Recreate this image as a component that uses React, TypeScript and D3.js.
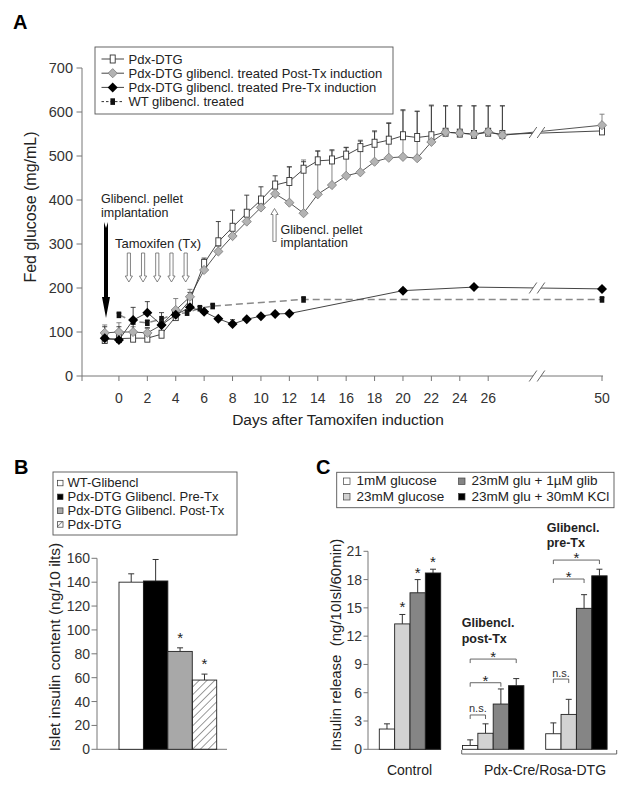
import * as d3 from "d3";

const FONT = "'Liberation Sans', Arial, Helvetica, sans-serif";

// ---------- Panel A: fed glucose time course ----------
const daysA = [-1, 0, 1, 2, 3, 4, 5, 6, 7, 8, 9, 10, 11, 12, 13, 14, 15, 16, 17, 18, 19, 20, 21, 22, 23, 24, 25, 26, 27, 50];
const pdxDtg = [83, 85, 86, 86, 95, 135, 172, 256, 305, 338, 370, 400, 434, 442, 470, 489, 491, 502, 519, 529, 536, 546, 542, 546, 554, 552, 549, 554, 549, 557];
const pdxDtgTop = [112, 112, 118, 110, 118, 150, 190, 268, 351, 377, 411, 430, 455, 475, 487, 511, 514, 519, 534, 557, 574, 605, 602, 614, 614, 614, 614, 614, 614, 563];
const postTx = [98, 100, 100, 98, 116, 150, 180, 241, 283, 318, 351, 383, 414, 394, 370, 413, 434, 455, 463, 487, 496, 498, 495, 532, 554, 552, 550, 555, 547, 570];
const postTxTop = [116, 121, 112, 108, 128, 176, 197, 250, 295, 330, 365, 395, 425, 476, 491, 512, 512, 520, 536, 555, 576, 603, 601, 616, 614, 614, 614, 614, 614, 595];
const preTxDays = [-1, 0, 1, 2, 3, 4, 5, 6, 7, 8, 9, 10, 11, 12, 20, 25, 50];
const preTx = [86, 82, 127, 144, 116, 139, 156, 146, 130, 118, 129, 136, 141, 142, 194, 202, 198];
const preTxTop = [96, 88, 156, 169, 124, 150, 163, 150, 134, 128, 133, 140, 145, 146, 198, 206, 202];
const wtDays = [0, 1, 2, 3, 3.9, 4.8, 5.7, 6.6, 13, 50];
const wtGlib = [139, 124, 121, 129, 141, 144, 154, 159, 174, 174];
const wtGlibTop = [143, 128, 126, 144, 147, 148, 158, 163, 178, 178];
const xTicksA = [0, 2, 4, 6, 8, 10, 12, 14, 16, 18, 20, 22, 24, 26, 50];
const yTicksA = [0, 100, 200, 300, 400, 500, 600, 700];
const txDays = [0.7, 1.7, 2.7, 3.7, 4.7];
const legendA = ["Pdx-DTG", "Pdx-DTG glibencl. treated Post-Tx induction", "Pdx-DTG glibencl. treated Pre-Tx induction", "WT glibencl. treated"];

// ---------- Panel B: islet insulin content ----------
const bLabels = ["WT-Glibencl", "Pdx-DTG Glibencl. Pre-Tx", "Pdx-DTG Glibencl. Post-Tx", "Pdx-DTG"];
const bValues = [140, 141, 82, 58];
const bErr = [7, 18, 3, 5];
const bStar = [false, false, true, true];
const yTicksB = [0, 20, 40, 60, 80, 100, 120, 140, 160];

// ---------- Panel C: insulin release ----------
const cGroups = ["Control", "Post-Tx", "Pre-Tx"];
const cConds = ["1mM glucose", "23mM glucose", "23mM glu + 1µM glib", "23mM glu + 30mM KCl"];
const cControl = [2.15, 13.3, 16.6, 18.7];
const cControlErr = [0.55, 1.0, 1.4, 0.4];
const cPost = [0.4, 1.7, 4.8, 6.75];
const cPostErr = [0.6, 1.0, 1.6, 0.75];
const cPre = [1.65, 3.7, 14.95, 18.4];
const cPreErr = [1.15, 1.6, 1.45, 0.7];
const cStars = [[false, true, true, true], [false, false, false, false], [false, false, false, false]];
const yTicksC = [0, 3, 6, 9, 12, 15, 18, 21];
// brackets: group, from cond, to cond, level, label
const cBrackets: [string, number, number, number, string][] = [
  ["Post-Tx", 0, 1, 3.64, "n.s."],
  ["Post-Tx", 0, 2, 7.06, "*"],
  ["Post-Tx", 0, 3, 9.57, "*"],
  ["Pre-Tx", 0, 1, 7.45, "n.s."],
  ["Pre-Tx", 0, 2, 18.06, "*"],
  ["Pre-Tx", 0, 3, 20.07, "*"],
];

const condFill = ["#ffffff", "#d2d2d2", "#858585", "#000000"];

const diamond = (x: number, y: number, r: number) =>
  `M${x},${y - r}L${x + r},${y}L${x},${y + r}L${x - r},${y}Z`;

function BreakMark({ cx, cy }: { cx: number; cy: number }) {
  const h = 5.5, w = 3.8, o = 4;
  const pts = [[cx - o - w, cy + h], [cx - o + w, cy - h], [cx + o + w, cy - h], [cx + o - w, cy + h]];
  return (
    <g>
      <polygon points={pts.map((p) => p.join(",")).join(" ")} fill="#fff" />
      <line x1={cx - o - w} y1={cy + h} x2={cx - o + w} y2={cy - h} stroke="#555" strokeWidth={0.9} />
      <line x1={cx + o - w} y1={cy + h} x2={cx + o + w} y2={cy - h} stroke="#555" strokeWidth={0.9} />
    </g>
  );
}

function hollowArrow(x: number, y0: number, tip: number) {
  const dir = tip > y0 ? 1 : -1;
  const hb = tip - dir * 6;
  return `M${x - 1.6},${y0}L${x + 1.6},${y0}L${x + 1.6},${hb}L${x + 3.6},${hb}L${x},${tip}L${x - 3.6},${hb}L${x - 1.6},${hb}Z`;
}

function PanelA() {
  const x = d3.scaleLinear().domain([-2.6, 30, 50]).range([82, 545, 602]);
  const y = d3.scaleLinear().domain([0, 700]).range([376, 68]);
  const line = d3.line<[number, number]>().x((d) => x(d[0])).y((d) => y(d[1]));
  const sq = daysA.map((d, i) => [d, pdxDtg[i]] as [number, number]);
  const gd = daysA.map((d, i) => [d, postTx[i]] as [number, number]);
  const bd = preTxDays.map((d, i) => [d, preTx[i]] as [number, number]);
  const wt = wtDays.map((d, i) => [d, wtGlib[i]] as [number, number]);
  const brkX = 537;
  const interp = (arr: [number, number][]) => {
    const a = arr[arr.length - 2], b = arr[arr.length - 1];
    const t = (brkX - x(a[0])) / (x(b[0]) - x(a[0]));
    return y(a[1] + t * (b[1] - a[1]));
  };
  const upperY = (interp(sq) + interp(gd)) / 2;
  const lowerY = interp(bd);
  const err = (xs: number[], vs: number[], tops: number[], col: string) =>
    xs.map((d, i) =>
      tops[i] > vs[i] + 1 ? (
        <g key={i} stroke={col} strokeWidth={0.9}>
          <line x1={x(d)} x2={x(d)} y1={y(vs[i])} y2={y(tops[i])} />
          <line x1={x(d) - 2.5} x2={x(d) + 2.5} y1={y(tops[i])} y2={y(tops[i])} />
        </g>
      ) : null
    );
  const legendSym = (i: number, cx: number, cy: number) => {
    if (i === 0) return <rect x={cx - 2.5} y={cy - 4} width={5} height={8} fill="#fff" stroke="#333" strokeWidth={0.9} />;
    if (i === 1) return <path d={diamond(cx, cy, 4.6)} fill="#b3b3b3" stroke="#7a7a7a" strokeWidth={0.8} />;
    if (i === 2) return <path d={diamond(cx, cy, 5)} fill="#000" />;
    return <rect x={cx - 2.3} y={cy - 3.3} width={4.6} height={6.6} fill="#111" />;
  };
  return (
    <g>
      <text x={13} y={29} fontSize={20} fontWeight="bold">A</text>
      {/* axes */}
      <line x1={82} x2={82} y1={y(700)} y2={376} stroke="#777" />
      <line x1={82} x2={603} y1={376} y2={376} stroke="#777" />
      {yTicksA.map((t) => (
        <g key={t}>
          <line x1={76.5} x2={82} y1={y(t)} y2={y(t)} stroke="#777" />
          <text x={73} y={y(t)} dy="0.35em" textAnchor="end" fontSize={14.5} fill="#333">{t}</text>
        </g>
      ))}
      <line x1={82} x2={82} y1={376} y2={381} stroke="#777" />
      {xTicksA.map((t) => (
        <g key={t}>
          <line x1={x(t)} x2={x(t)} y1={376} y2={381} stroke="#777" />
          <text x={x(t)} y={403} textAnchor="middle" fontSize={14} fill="#333">{t}</text>
        </g>
      ))}
      <BreakMark cx={brkX} cy={376} />
      <text x={338} y={425} textAnchor="middle" fontSize={15.5} fill="#222">Days after Tamoxifen induction</text>
      <text transform={`translate(36,207) rotate(-90)`} textAnchor="middle" fontSize={16} fill="#222">Fed glucose (mg/mL)</text>

      {/* lines */}
      <path d={line(wt) || ""} fill="none" stroke="#8a8a8a" strokeWidth={1.5} strokeDasharray="7,4" />
      <path d={line(bd) || ""} fill="none" stroke="#444" strokeWidth={1} />
      <path d={line(gd) || ""} fill="none" stroke="#555" strokeWidth={1} />
      <path d={line(sq) || ""} fill="none" stroke="#333" strokeWidth={0.9} />
      <BreakMark cx={brkX} cy={upperY} />
      <BreakMark cx={brkX} cy={lowerY} />

      {/* error bars */}
      {err(daysA, postTx, postTxTop, "#777")}
      {err(daysA, pdxDtg, pdxDtgTop, "#333")}
      {err(preTxDays, preTx, preTxTop, "#333")}
      {err(wtDays, wtGlib, wtGlibTop, "#333")}

      {/* markers */}
      {wt.map((d, i) => (
        <rect key={i} x={x(d[0]) - 2.3} y={y(d[1]) - 3.3} width={4.6} height={6.6} fill="#111" />
      ))}
      {sq.map((d, i) => (
        <rect key={i} x={x(d[0]) - 2.5} y={y(d[1]) - 4} width={5} height={8} fill="#fff" stroke="#333" strokeWidth={0.9} />
      ))}
      {gd.map((d, i) => (
        <path key={i} d={diamond(x(d[0]), y(d[1]), 4.6)} fill="#b3b3b3" stroke="#7a7a7a" strokeWidth={0.8} />
      ))}
      {bd.map((d, i) => (
        <path key={i} d={diamond(x(d[0]), y(d[1]), 5)} fill="#000" />
      ))}

      {/* annotations */}
      <text x={101} y={203} fontSize={12.5} fill="#222">Glibencl. pellet</text>
      <text x={101} y={216.5} fontSize={12.5} fill="#222">implantation</text>
      <path d={`M104,222L106,228L108,222L108,297L110,297L106,318L102,297L104,297Z`} fill="#000" />
      <text x={115} y={247.5} fontSize={13} fill="#222">Tamoxifen (Tx)</text>
      {txDays.map((d) => (
        <path key={d} d={hollowArrow(x(d), 253, 282)} fill="#fff" stroke="#666" strokeWidth={0.8} />
      ))}
      <path d={hollowArrow(274.5, 241.5, 208.5)} fill="#fff" stroke="#666" strokeWidth={0.8} />
      <text x={280.5} y={234} fontSize={12.5} fill="#222">Glibencl. pellet</text>
      <text x={280.5} y={247.3} fontSize={12.5} fill="#222">implantation</text>

      {/* legend */}
      <rect x={95} y={47} width={298} height={67} fill="#fff" stroke="#555" strokeWidth={0.9} />
      {legendA.map((l, i) => {
        const cy = 59 + i * 14.2;
        return (
          <g key={l}>
            <line x1={101.5} x2={124} y1={cy} y2={cy} stroke={i === 3 ? "#333" : "#444"} strokeDasharray={i === 3 ? "2.5,2" : undefined} />
            {legendSym(i, 112.7, cy)}
            <text x={128.5} y={cy + 4.6} fontSize={13} fill="#222">{l}</text>
          </g>
        );
      })}
    </g>
  );
}

function PanelB() {
  const y = d3.scaleLinear().domain([0, 160]).range([749.3, 558.3]);
  const x = d3.scaleBand().domain(bLabels).range([119, 216.7]).padding(0);
  const bw = x.bandwidth();
  return (
    <g>
      <defs>
        <pattern id="hatch" width={5.5} height={5.5} patternUnits="userSpaceOnUse" patternTransform="rotate(45)">
          <line x1={0} y1={0} x2={0} y2={5.5} stroke="#222" strokeWidth={0.9} />
        </pattern>
      </defs>
      <text x={14} y={474} fontSize={20} fontWeight="bold">B</text>
      <rect x={53} y={472} width={184} height={63} fill="#fff" stroke="#555" strokeWidth={0.9} />
      {bLabels.map((l, i) => {
        const by = 487.3 + i * 13.8;
        return (
          <g key={l}>
            <rect x={57.5} y={by - 7} width={5.5} height={5.5} fill={i === 3 ? "url(#hatch)" : ["#fff", "#000", "#a8a8a8"][i]} stroke="#333" strokeWidth={0.7} />
            <text x={67.5} y={by} fontSize={13} fill="#222">{l}</text>
          </g>
        );
      })}
      <line x1={97} x2={97} y1={y(160)} y2={y(0)} stroke="#777" />
      <line x1={97} x2={227} y1={y(0)} y2={y(0)} stroke="#777" />
      {yTicksB.map((t) => (
        <g key={t}>
          <line x1={91.5} x2={97} y1={y(t)} y2={y(t)} stroke="#777" />
          <text x={90} y={y(t)} dy="0.36em" textAnchor="end" fontSize={14} fill="#333">{t}</text>
        </g>
      ))}
      <text transform={`translate(60,647) rotate(-90)`} textAnchor="middle" fontSize={15.5} fill="#222">Islet insulin content (ng/10 ilts)</text>
      {bLabels.map((l, i) => {
        const bx = x(l) as number;
        const cx = bx + bw / 2;
        const top = y(bValues[i] + bErr[i]);
        return (
          <g key={l}>
            <line x1={cx} x2={cx} y1={y(bValues[i])} y2={top} stroke="#333" />
            <line x1={cx - 3} x2={cx + 3} y1={top} y2={top} stroke="#333" />
            <rect x={bx} y={y(bValues[i])} width={bw} height={y(0) - y(bValues[i])} fill={i === 3 ? "url(#hatch)" : ["#fff", "#000", "#a8a8a8"][i]} stroke="#222" strokeWidth={0.9} />
            {bStar[i] && <text x={cx} y={top - 5} textAnchor="middle" fontSize={15} fill="#222">*</text>}
          </g>
        );
      })}
    </g>
  );
}

function PanelC() {
  const y = d3.scaleLinear().domain([0, 21]).range([749.3, 551.3]);
  const xg = d3.scaleBand().domain(cGroups).range([379.3, 607.1]).paddingInner(0.262).paddingOuter(0);
  const xc = d3.scaleBand().domain(cConds).range([0, xg.bandwidth()]).padding(0);
  const bw = xc.bandwidth();
  const vals = [cControl, cPost, cPre];
  const errs = [cControlErr, cPostErr, cPreErr];
  const cx = (g: string, c: number) => (xg(g) as number) + (xc(cConds[c]) as number) + bw / 2;
  const legendPos = [[343.5, 485], [343.5, 500.5], [458.5, 485], [458.5, 500.5]];
  return (
    <g>
      <text x={316} y={474} fontSize={20} fontWeight="bold">C</text>
      <rect x={336.7} y={472.3} width={277.3} height={35.4} fill="#fff" stroke="#555" strokeWidth={0.9} />
      {cConds.map((c, ci) => (
        <g key={c}>
          <rect x={legendPos[ci][0]} y={legendPos[ci][1] - 7} width={6.5} height={6.5} fill={condFill[ci]} stroke="#444" strokeWidth={0.7} />
          <text x={legendPos[ci][0] + 13} y={legendPos[ci][1]} fontSize={13.5} fill="#222">{c}</text>
        </g>
      ))}
      <line x1={368} x2={368} y1={y(21)} y2={y(0)} stroke="#777" />
      <line x1={368} x2={441} y1={y(0)} y2={y(0)} stroke="#777" />
      {yTicksC.map((t) => (
        <g key={t}>
          <line x1={363.5} x2={368} y1={y(t)} y2={y(t)} stroke="#777" />
          <text x={362} y={y(t)} dy="0.36em" textAnchor="end" fontSize={14} fill="#333">{t}</text>
        </g>
      ))}
      <text transform={`translate(341,645) rotate(-90)`} textAnchor="middle" fontSize={15} fill="#222" style={{ whiteSpace: "pre" }}>{"Insulin release  (ng/10Isl/60min)"}</text>
      {cGroups.map((g, gi) =>
        cConds.map((c, ci) => {
          const bx = (xg(g) as number) + (xc(c) as number);
          const v = vals[gi][ci];
          const top = y(v + errs[gi][ci]);
          const mx = bx + bw / 2;
          return (
            <g key={g + c}>
              <line x1={mx} x2={mx} y1={y(v)} y2={top} stroke="#333" />
              <line x1={mx - 3} x2={mx + 3} y1={top} y2={top} stroke="#333" />
              <rect x={bx} y={y(v)} width={bw} height={y(0) - y(v)} fill={condFill[ci]} stroke="#222" strokeWidth={0.9} />
              {cStars[gi][ci] && <text x={mx} y={top - 2} textAnchor="middle" fontSize={15} fill="#222">*</text>}
            </g>
          );
        })
      )}
      {cBrackets.map(([g, a, b, lv, lab], i) => {
        const x1 = cx(g, a), x2 = cx(g, b), by = y(lv);
        return (
          <g key={i}>
            <path d={`M${x1},${by + 4}V${by}H${x2}V${by + 4}`} fill="none" stroke="#555" strokeWidth={0.9} />
            {lab === "*" ? (
              <text x={(x1 + x2) / 2} y={by + 3} textAnchor="middle" fontSize={15} fill="#222">*</text>
            ) : (
              <text x={(x1 + x2) / 2} y={by - 2.5} textAnchor="middle" fontSize={11} fill="#333">{lab}</text>
            )}
          </g>
        );
      })}
      <text x={461.7} y={627} fontSize={12.5} fontWeight="bold" fill="#222">Glibencl.</text>
      <text x={461.7} y={643} fontSize={12.5} fontWeight="bold" fill="#222">post-Tx</text>
      <text x={546.7} y={532} fontSize={12.5} fontWeight="bold" fill="#222">Glibencl.</text>
      <text x={546.7} y={546.5} fontSize={12.5} fontWeight="bold" fill="#222">pre-Tx</text>
      <path d={`M461.7,750V754H616.7V750`} fill="none" stroke="#555" strokeWidth={0.9} />
      <text x={409.5} y={775} textAnchor="middle" fontSize={14} fill="#222">Control</text>
      <text x={545} y={775} textAnchor="middle" fontSize={14} fill="#222">Pdx-Cre/Rosa-DTG</text>
    </g>
  );
}

export default function App() {
  return (
    <svg
      width={629}
      height={787}
      viewBox="0 0 629 787"
      style={{ position: "absolute", left: 0, top: 0, background: "#fff" }}
      fontFamily={FONT}
    >
      <rect width={629} height={787} fill="#fff" />
      <PanelA />
      <PanelB />
      <PanelC />
    </svg>
  );
}
